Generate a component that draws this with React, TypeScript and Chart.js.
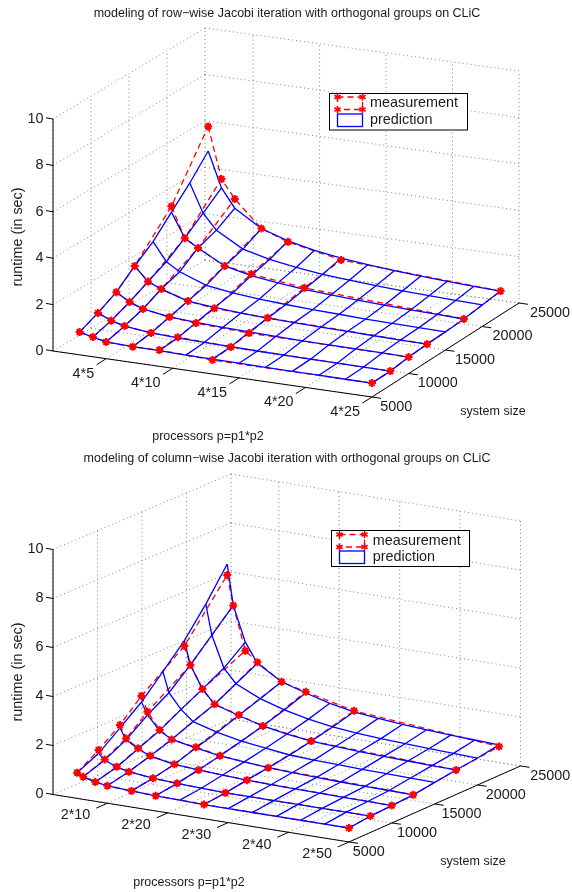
import React, { useEffect, useRef } from "react";
import { Chart, registerables } from "chart.js";

Chart.register(...registerables);

// ---------- data: upper chart ----------
const rowTitle = "modeling of row\u2212wise Jacobi iteration with orthogonal groups on CLiC";
const rowPredictedP = [3, 4, 5, 7, 9, 11, 13, 15, 17, 19, 21, 23, 25];
const rowMeasuredP = [3, 4, 5, 7, 9, 13, 25];
const sizesPredicted = [5000, 7500, 10000, 12500, 15000, 17500, 20000, 22500];
const sizesMeasured = [5000, 7500, 10000, 12500, 17500, 22500];
const rowPredicted = [
  [0.98, 0.85, 0.72, 0.68, 0.68, 0.65, 0.64, 0.63, 0.62, 0.61, 0.61, 0.6, 0.6],
  [1.3, 1.05, 0.9, 0.77, 0.72, 0.69, 0.67, 0.65, 0.64, 0.63, 0.62, 0.62, 0.61],
  [1.69, 1.35, 1.13, 0.95, 0.88, 0.83, 0.8, 0.77, 0.75, 0.74, 0.73, 0.72, 0.71],
  [2.31, 1.72, 1.48, 1.13, 1.02, 0.94, 0.89, 0.86, 0.83, 0.81, 0.79, 0.77, 0.76],
  [2.85, 2.07, 1.72, 1.3, 1.14, 1.04, 0.97, 0.91, 0.88, 0.84, 0.82, 0.8, 0.78],
  [3.62, 2.58, 2.24, 1.63, 1.38, 1.23, 1.12, 1.04, 0.98, 0.93, 0.89, 0.86, 0.83],
  [4.37, 3.15, 2.5, 1.85, 1.57, 1.39, 1.26, 1.17, 1.1, 1.04, 1.0, 0.96, 0.93],
  [5.24, 3.73, 2.94, 2.23, 1.86, 1.62, 1.45, 1.33, 1.24, 1.17, 1.11, 1.06, 1.02],
];
const rowMeasured = [
  [0.98, 0.85, 0.72, 0.68, 0.7, 0.6, 0.6],
  [1.3, 1.05, 0.9, 0.77, 0.75, 0.66, 0.61],
  [1.69, 1.35, 1.13, 0.95, 0.85, 0.75, 0.71],
  [2.31, 1.72, 1.48, 1.13, 0.98, 0.9, 0.76],
  [3.87, 2.58, 2.24, 1.63, 1.45, 1.18, 0.83],
  [6.3, 4.12, 3.34, 2.23, 1.82, 1.37, 1.02],
];
const rowTickP = [5, 10, 15, 20, 25];
const rowTickLabels = ["4*5", "4*10", "4*15", "4*20", "4*25"];

// ---------- data: lower chart ----------
const colTitle = "modeling of column\u2212wise Jacobi iteration with orthogonal groups on CLiC";
const colPredictedP = [5, 6, 8, 10, 14, 18, 22, 26, 30, 34, 38, 42, 46, 50];
const colMeasuredP = [5, 6, 8, 10, 14, 18, 26, 50];
const colPredicted = [
  [1.05, 0.92, 0.79, 0.71, 0.66, 0.62, 0.6, 0.58, 0.57, 0.57, 0.57, 0.57, 0.57, 0.57],
  [1.45, 1.22, 1.0, 0.9, 0.79, 0.74, 0.7, 0.67, 0.67, 0.67, 0.67, 0.67, 0.67, 0.67],
  [2.1, 1.65, 1.37, 1.15, 0.97, 0.9, 0.85, 0.8, 0.77, 0.76, 0.74, 0.73, 0.72, 0.71],
  [2.77, 2.28, 1.72, 1.44, 1.25, 1.09, 1.0, 0.92, 0.88, 0.84, 0.81, 0.79, 0.78, 0.76],
  [3.62, 2.8, 2.2, 1.78, 1.5, 1.3, 1.17, 1.05, 1.0, 0.97, 0.94, 0.92, 0.9, 0.88],
  [4.5, 3.55, 2.64, 2.1, 1.8, 1.53, 1.36, 1.23, 1.17, 1.12, 1.08, 1.05, 1.02, 1.0],
  [5.6, 4.38, 3.11, 2.55, 2.1, 1.8, 1.58, 1.42, 1.33, 1.26, 1.21, 1.17, 1.13, 1.1],
  [6.85, 5.2, 3.78, 3.0, 2.4, 2.1, 1.84, 1.65, 1.54, 1.45, 1.39, 1.33, 1.29, 1.25],
];
const colMeasured = [
  [1.05, 0.92, 0.79, 0.71, 0.66, 0.62, 0.58, 0.57],
  [1.59, 1.24, 1.02, 0.9, 0.79, 0.74, 0.67, 0.67],
  [2.22, 1.71, 1.39, 1.16, 0.97, 0.9, 0.8, 0.71],
  [3.02, 2.41, 1.75, 1.44, 1.28, 1.09, 0.92, 0.76],
  [4.28, 3.54, 2.64, 2.1, 1.82, 1.53, 1.23, 1.0],
  [6.4, 5.2, 3.43, 3.04, 2.4, 2.15, 1.69, 1.18],
];
const colTickP = [10, 20, 30, 40, 50];
const colTickLabels = ["2*10", "2*20", "2*30", "2*40", "2*50"];

// ---------- shared ----------
const sizeTicks = [5000, 10000, 15000, 20000, 25000];
const timeTicks = [0, 2, 4, 6, 8, 10];
const legendLabels = ["measurement", "prediction"];
const yLabel = "runtime (in sec)";
const xLabel = "processors p=p1*p2";
const nLabel = "system size";

const FONT = '"Liberation Sans", Arial, sans-serif';
const BIG = 14.4;
const SMALL = 12.5;

interface View {
  top: number; bottom: number;
  ox: number; oy: number; pMax: number;
  px: number; py: number; nx: number; ny: number; zs: number;
  cornerX: number; cornerY: number;
  title: string; titleX: number; titleY: number;
  yLabelY: number; xLabelX: number; xLabelY: number; nLabelX: number; nLabelY: number;
  pTickDx: number; pTickDy: number; nTickDx: number; nTickSpread: number; nTickDy: number;
  tickP: number[]; tickLabels: string[];
  predP: number[]; measP: number[]; pred: number[][]; meas: number[][];
  legend: { x0: number; x1: number; y0: number; y1: number; sx0: number; sx1: number; r0: number; r1: number; b0: number; b1: number; tx: number; t0: number; t1: number };
}

const views: View[] = [
  {
    top: 0, bottom: 446,
    ox: 53, oy: 351, pMax: 25, px: 13.29, py: 1.917, nx: 147, ny: 94, zs: 23.2,
    cornerX: 205, cornerY: 260,
    title: rowTitle, titleX: 287, titleY: 14,
    yLabelY: 237, xLabelX: 208, xLabelY: 437, nLabelX: 493, nLabelY: 412,
    pTickDx: -12, pTickDy: 15, nTickDx: 8.3, nTickSpread: 2.7, nTickDy: 10,
    tickP: rowTickP, tickLabels: rowTickLabels,
    predP: rowPredictedP, measP: rowMeasuredP, pred: rowPredicted, meas: rowMeasured,
    legend: { x0: 329.5, x1: 467.5, y0: 93.5, y1: 130, sx0: 337.5, sx1: 362.5, r0: 97, r1: 109.5, b0: 114, b1: 126.5, tx: 370, t0: 103.5, t1: 120.5 },
  },
  {
    top: 446, bottom: 892,
    ox: 53, oy: 794.5, pMax: 50, px: 6.04, py: 0.969, nx: 171.5, ny: 76, zs: 24.5,
    cornerX: 231, cornerY: 719,
    title: colTitle, titleX: 287, titleY: 459,
    yLabelY: 672, xLabelX: 189, xLabelY: 883, nLabelX: 473, nLabelY: 862,
    pTickDx: -17, pTickDy: 12.3, nTickDx: 3.7, nTickSpread: 6.1, nTickDy: 10,
    tickP: colTickP, tickLabels: colTickLabels,
    predP: colPredictedP, measP: colMeasuredP, pred: colPredicted, meas: colMeasured,
    legend: { x0: 331.5, x1: 469.5, y0: 530.5, y1: 566.5, sx0: 339.5, sx1: 364.5, r0: 534.5, r1: 547, b0: 551, b1: 563.5, tx: 372.7, t0: 541, t1: 557.5 },
  },
];

const project = (v: View, p: number, n: number, z: number) => {
  const t = (n - 5000) / 20000;
  return { x: v.ox + (p - 1) * v.px + t * v.nx, y: v.oy + (p - 1) * v.py - t * v.ny - z * v.zs };
};
const wall = (v: View, n: number, z: number) => {
  const t = (n - 5000) / 20000;
  return { x: v.ox + t * (v.cornerX - v.ox), y: v.oy + t * (v.cornerY - v.oy) - z * v.zs };
};

const line = (data: { x: number; y: number }[], color: string, width: number, dash: number[] = [], extra: object = {}) => ({
  data, showLine: true, borderColor: color, borderWidth: width, borderDash: dash,
  pointRadius: 0, backgroundColor: color, ...extra,
});

function buildDatasets(v: View) {
  const out: any[] = [];
  // measured markers (top-most)
  const star = { showLine: false, pointRadius: 4, pointStyle: "star", pointBorderColor: "#ff0000", pointBorderWidth: 2, pointBackgroundColor: "#ff0000" };
  v.meas.forEach((row, i) => {
    out.push(line(row.map((z, j) => project(v, v.measP[j], sizesMeasured[i], z)), "#ff0000", 1, [], star));
  });
  // predicted mesh
  v.pred.forEach((row, i) => {
    out.push(line(row.map((z, j) => project(v, v.predP[j], sizesPredicted[i], z)), "#0000ff", 1.3));
  });
  v.predP.forEach((p, j) => {
    out.push(line(v.pred.map((row, i) => project(v, p, sizesPredicted[i], row[j])), "#0000ff", 1.3));
  });
  // measured mesh
  v.meas.forEach((row, i) => {
    out.push(line(row.map((z, j) => project(v, v.measP[j], sizesMeasured[i], z)), "#ff0000", 1.3, [6, 4]));
  });
  v.measP.forEach((p, j) => {
    out.push(line(v.meas.map((row, i) => project(v, p, sizesMeasured[i], row[j])), "#ff0000", 1.3, [6, 4]));
  });
  // axes
  const black = "#000000";
  out.push(line([wall(v, 5000, 0), wall(v, 5000, 10)], black, 1));
  out.push(line([project(v, 1, 5000, 0), project(v, v.pMax, 5000, 0)], black, 1));
  out.push(line([project(v, v.pMax, 5000, 0), project(v, v.pMax, 25000, 0)], black, 1));
  timeTicks.forEach((z) => {
    const a = wall(v, 5000, z);
    out.push(line([a, { x: a.x - 7, y: a.y - 1.2 }], black, 1));
  });
  const e = { x: v.nx / 20000, y: -v.ny / 20000 };
  v.tickP.forEach((p) => {
    const a = project(v, p, 5000, 0);
    out.push(line([a, { x: a.x - e.x * 1300, y: a.y - e.y * 1300 }], black, 1));
  });
  sizeTicks.forEach((n) => {
    const a = project(v, v.pMax, n, 0);
    out.push(line([a, { x: a.x + 9, y: a.y + 1.3 }], black, 1));
  });
  // dotted grid
  const g = "#808080";
  const dot = [1, 3];
  timeTicks.forEach((z) => {
    out.push(line([wall(v, 5000, z), wall(v, 25000, z)], g, 1, dot));
    out.push(line([wall(v, 25000, z), project(v, v.pMax, 25000, z)], g, 1, dot));
  });
  sizeTicks.forEach((n) => {
    out.push(line([wall(v, n, 0), wall(v, n, 10)], g, 1, dot));
    out.push(line([wall(v, n, 0), project(v, v.pMax, n, 0)], g, 1, dot));
  });
  v.tickP.forEach((p) => {
    out.push(line([project(v, p, 5000, 0), project(v, p, 25000, 0)], g, 1, dot));
    out.push(line([project(v, p, 25000, 0), project(v, p, 25000, 10)], g, 1, dot));
  });
  return out;
}

const textPlugin = (v: View) => ({
  id: "labels",
  afterDatasetsDraw(chart: any) {
    const { ctx, scales } = chart;
    const X = (x: number) => scales.x.getPixelForValue(x);
    const Y = (y: number) => scales.y.getPixelForValue(y);
    const put = (s: string, x: number, y: number, size: number, align: CanvasTextAlign) => {
      ctx.font = `${size}px ${FONT}`;
      ctx.textAlign = align;
      ctx.textBaseline = "middle";
      ctx.fillStyle = "#1a1a1a";
      ctx.fillText(s, X(x), Y(y));
    };
    ctx.save();
    put(v.title, v.titleX, v.titleY, SMALL, "center");
    timeTicks.forEach((z) => {
      const a = wall(v, 5000, z);
      put(String(z), 43.5, a.y, BIG, "right");
    });
    v.tickP.forEach((p, i) => {
      const a = project(v, p, 5000, 0);
      put(v.tickLabels[i], a.x + v.pTickDx, a.y + v.pTickDy, BIG, "right");
    });
    sizeTicks.forEach((n) => {
      const a = project(v, v.pMax, n, 0);
      const t = (n - 5000) / 20000;
      put(String(n), a.x + v.nTickDx + t * v.nTickSpread, a.y + v.nTickDy, BIG, "left");
    });
    put(xLabel, v.xLabelX, v.xLabelY, SMALL, "center");
    put(nLabel, v.nLabelX, v.nLabelY, SMALL, "center");
    ctx.save();
    ctx.translate(X(18), Y(v.yLabelY));
    ctx.rotate(-Math.PI / 2);
    ctx.font = `${BIG}px ${FONT}`;
    ctx.textAlign = "center";
    ctx.textBaseline = "middle";
    ctx.fillStyle = "#1a1a1a";
    ctx.fillText(yLabel, 0, 0);
    ctx.restore();
    // legend
    const L = v.legend;
    ctx.fillStyle = "#ffffff";
    ctx.fillRect(X(L.x0), Y(L.y0), L.x1 - L.x0, L.y1 - L.y0);
    ctx.strokeStyle = "#000000";
    ctx.lineWidth = 1;
    ctx.strokeRect(X(L.x0), Y(L.y0), L.x1 - L.x0, L.y1 - L.y0);
    ctx.strokeStyle = "#ff0000";
    ctx.lineWidth = 1.3;
    ctx.setLineDash([6, 4]);
    ctx.strokeRect(X(L.sx0), Y(L.r0), L.sx1 - L.sx0, L.r1 - L.r0);
    ctx.setLineDash([]);
    const star = (x: number, y: number) => {
      const r = 3.6;
      ctx.lineWidth = 1.6;
      for (let k = 0; k < 3; k++) {
        const a = (k * Math.PI) / 3 + Math.PI / 2;
        ctx.beginPath();
        ctx.moveTo(X(x) - r * Math.cos(a), Y(y) - r * Math.sin(a));
        ctx.lineTo(X(x) + r * Math.cos(a), Y(y) + r * Math.sin(a));
        ctx.stroke();
      }
      ctx.lineWidth = 1;
    };
    [L.sx0, L.sx1].forEach((x) => [L.r0, L.r1].forEach((y) => star(x, y)));
    ctx.strokeStyle = "#0000ff";
    ctx.lineWidth = 1.3;
    ctx.strokeRect(X(L.sx0), Y(L.b0), L.sx1 - L.sx0, L.b1 - L.b0);
    put(legendLabels[0], L.tx, L.t0, BIG, "left");
    put(legendLabels[1], L.tx, L.t1, BIG, "left");
    ctx.restore();
  },
});

function Panel({ view }: { view: View }) {
  const ref = useRef<HTMLCanvasElement>(null);
  useEffect(() => {
    if (!ref.current) return;
    const chart = new Chart(ref.current, {
      type: "scatter",
      data: { datasets: buildDatasets(view) },
      options: {
        responsive: false,
        animation: false,
        events: [],
        layout: { padding: 0, autoPadding: false },
        scales: {
          x: { type: "linear", min: 0, max: 572, display: false },
          y: { type: "linear", min: view.top, max: view.bottom, reverse: true, display: false },
        },
        plugins: { legend: { display: false }, tooltip: { enabled: false }, title: { display: false } },
      } as any,
      plugins: [textPlugin(view)],
    });
    return () => chart.destroy();
  }, [view]);
  return <canvas ref={ref} width={572} height={446} style={{ display: "block", width: 572, height: 446 }} />;
}

export default function App() {
  return (
    <div style={{ position: "absolute", left: 0, top: 0, width: 572, height: 892, background: "#fff" }}>
      {views.map((v) => (
        <Panel key={v.top} view={v} />
      ))}
    </div>
  );
}
